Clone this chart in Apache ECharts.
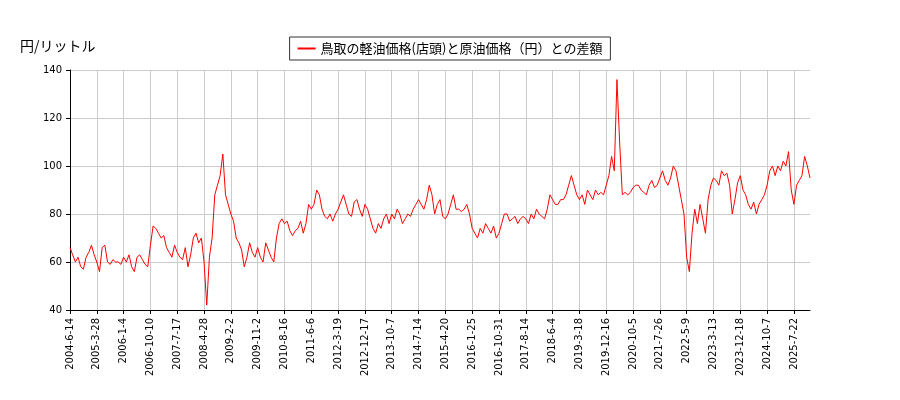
<!DOCTYPE html>
<html><head><meta charset="utf-8">
<script src="https://cdn.jsdelivr.net/npm/echarts@6/dist/echarts.min.js"></script>
<style>html,body{margin:0;padding:0;background:#fff}#c{width:900px;height:400px}</style>
</head><body><div id="c"></div>
<script>
const tickLabels=["2004-6-14","2005-3-28","2006-1-4","2006-10-10","2007-7-17","2008-4-28","2009-2-2","2009-11-2","2010-8-16","2011-6-6","2012-3-19","2012-12-17","2013-10-7","2014-7-14","2015-4-20","2016-1-25","2016-10-31","2017-8-14","2018-6-4","2019-3-18","2019-12-16","2020-10-5","2021-7-26","2022-5-9","2023-3-13","2023-12-18","2024-10-7","2025-7-22"];
const values=[
66,63,60,62,58,57,62,64,67,63,
60,56,66,67,60,59,61,60,60,59,
62,60,63,58,56,62,63,61,59,58,
67,75,74,72,70,71,66,64,62,67,
64,62,61,66,58,63,70,72,68,70,
60,42,62,70,88,92,96,105,88,84,
80,77,70,68,65,58,62,68,64,62,
66,62,60,68,65,62,60,70,76,78,
76,77,73,71,73,74,77,72,76,84,
82,84,90,88,82,79,78,80,77,80,
82,85,88,84,80,79,85,86,82,79,
84,82,78,74,72,76,74,78,80,76,
80,78,82,80,76,78,80,79,82,84,
86,84,82,86,92,88,80,84,86,79,
78,80,84,88,82,82,81,82,84,80,
74,72,70,74,72,76,74,72,75,70,
72,76,80,80,77,78,79,76,78,79,
78,76,80,78,82,80,79,78,82,88,
86,84,84,86,86,88,92,96,92,88,
86,88,84,90,88,86,90,88,89,88,
92,96,104,98,136,110,88,89,88,89,
91,92,92,90,89,88,92,94,91,92,
95,98,94,92,95,100,98,92,86,80,
62,56,72,82,76,84,78,72,86,92,
95,94,92,98,96,97,92,80,86,93,
96,90,88,84,82,85,80,84,86,88,
92,98,100,96,100,98,102,100,106,90,
84,92,94,96,104,100,95];
const cats=values.map((v,i)=> i%10===0 && tickLabels[i/10] ? tickLabels[i/10] : "p"+i);
const chart=echarts.init(document.getElementById('c'));
chart.setOption({
  animation:false,
  legend:{top:37,left:'center',itemWidth:18,itemHeight:2,borderColor:'#333',borderWidth:1,borderRadius:0,padding:[5,8],
    textStyle:{fontFamily:'Noto Sans CJK JP',fontSize:13,color:'#000'},data:[{name:'鳥取の軽油価格(店頭)と原油価格（円）との差額',icon:'rect'}]},
  graphic:[{type:'text',left:20,top:39,style:{text:'円/リットル',font:'14px "Noto Sans CJK JP"',fill:'#000'}}],
  grid:{left:70,right:90,top:70,bottom:90},
  xAxis:{type:'category',data:cats,boundaryGap:false,
    axisLine:{lineStyle:{color:'#000'}},
    axisTick:{interval:9,length:4,lineStyle:{color:'#000'}},
    axisLabel:{interval:9,rotate:90,fontFamily:'DejaVu Sans',fontSize:10,color:'#000',formatter:v=>v.startsWith('p')?'':v},
    splitLine:{show:true,interval:9,lineStyle:{color:'#ccc'}}},
  yAxis:{type:'value',min:40,max:140,interval:20,
    axisLine:{show:true,lineStyle:{color:'#000'}},
    axisTick:{show:true,length:4,lineStyle:{color:'#000'}},
    axisLabel:{fontFamily:'DejaVu Sans',fontSize:10,color:'#000'},
    splitLine:{lineStyle:{color:'#ccc'}}},
  series:[{name:'鳥取の軽油価格(店頭)と原油価格（円）との差額',type:'line',data:values,showSymbol:false,
    lineStyle:{color:'#ff0000',width:1},itemStyle:{color:'#ff0000'}}]
});
</script></body></html>
